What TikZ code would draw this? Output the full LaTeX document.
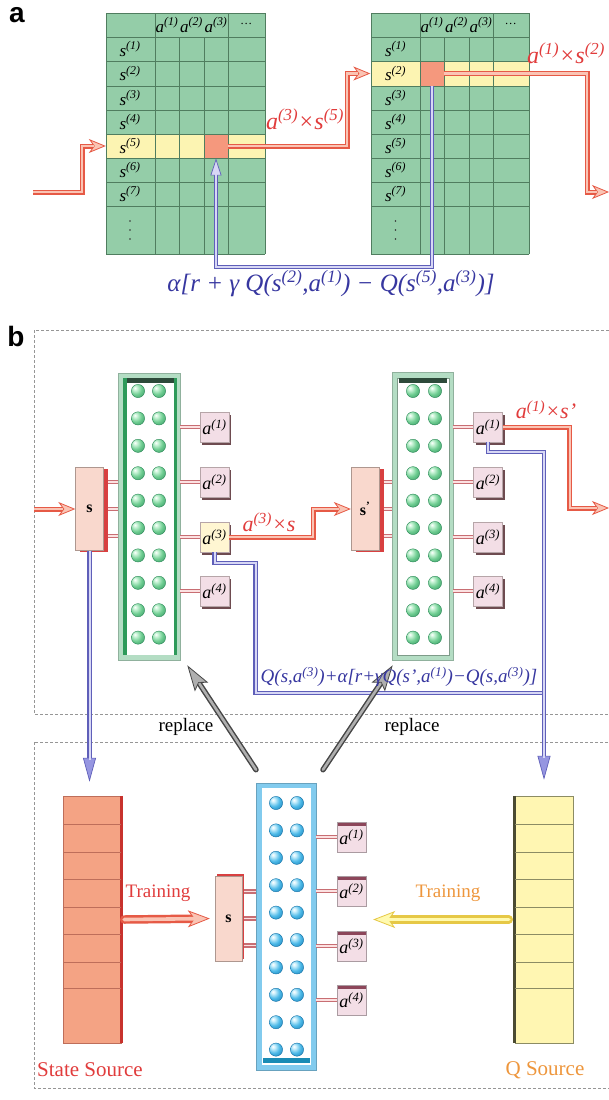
\documentclass[tikz,border=0pt]{standalone}
\usepackage{fontspec}
\setmainfont{Liberation Serif}
\newfontfamily\panelfont{Liberation Sans}
\usetikzlibrary{arrows.meta,shadows}
\definecolor{tgreen}{RGB}{148,205,168}
\definecolor{tline}{RGB}{80,125,95}
\definecolor{tyellow}{RGB}{252,244,178}
\definecolor{torange}{RGB}{245,152,125}
\definecolor{rout}{RGB}{230,90,70}
\definecolor{rin}{RGB}{250,196,180}
\definecolor{rtext}{RGB}{225,60,60}
\definecolor{btext}{RGB}{55,55,160}
\definecolor{bout}{RGB}{95,95,185}
\definecolor{bin}{RGB}{215,215,245}
\definecolor{btip}{RGB}{150,150,225}
\definecolor{gdark}{RGB}{70,70,70}
\definecolor{glight}{RGB}{175,175,175}
\definecolor{ngframe}{RGB}{180,221,196}
\definecolor{ngstripe}{RGB}{46,154,90}
\definecolor{ngbar}{RGB}{45,74,58}
\definecolor{ballgl}{RGB}{205,245,218}
\definecolor{ballg}{RGB}{110,205,145}
\definecolor{ballgd}{RGB}{40,135,85}
\definecolor{nbframe}{RGB}{130,203,238}
\definecolor{nbbar}{RGB}{26,140,181}
\definecolor{ballbl}{RGB}{205,240,252}
\definecolor{ballb}{RGB}{75,185,232}
\definecolor{ballbd}{RGB}{15,110,165}
\definecolor{spink}{RGB}{249,216,205}
\definecolor{sred}{RGB}{216,64,64}
\definecolor{apink}{RGB}{243,222,230}
\definecolor{ashadow}{RGB}{110,75,80}
\definecolor{abar}{RGB}{140,70,90}
\definecolor{ayellow}{RGB}{255,246,210}
\definecolor{stubout}{RGB}{200,110,115}
\definecolor{stubin}{RGB}{252,225,225}
\definecolor{ssfill}{RGB}{244,163,132}
\definecolor{ssedge}{RGB}{200,50,45}
\definecolor{ssline}{RGB}{190,110,90}
\definecolor{qsfill}{RGB}{255,246,178}
\definecolor{qsedge}{RGB}{75,75,50}
\definecolor{qsline}{RGB}{140,140,100}
\definecolor{yout}{RGB}{230,200,70}
\definecolor{yin}{RGB}{255,250,175}
\definecolor{otext}{RGB}{238,150,60}
\definecolor{dashc}{RGB}{150,150,150}
\pgfdeclareradialshading{gball}{\pgfpoint{-12bp}{12bp}}{color(0bp)=(white); color(7bp)=(ballgl); color(22bp)=(ballg); color(46bp)=(ballgd); color(80bp)=(ballgd)}
\pgfdeclareradialshading{bball}{\pgfpoint{-12bp}{12bp}}{color(0bp)=(white); color(7bp)=(ballbl); color(22bp)=(ballb); color(46bp)=(ballbd); color(80bp)=(ballbd)}
\newcommand\supx[1]{\textsuperscript{(#1)}}
\newcommand\fsz[1]{\fontsize{#1}{#1}\selectfont}
\tikzset{
 rarrow/.style={draw=rout, line width=5pt, line join=miter,
   -{Stealth[length=17pt,width=14pt,inset=5pt,line width=0.8pt,fill=rin]},
   postaction={draw=rin, line width=2.4pt, -, shorten >=12pt}},
 barrow/.style={draw=bout, line width=4.4pt, line join=miter,
   -{Triangle[length=24pt,width=13pt,line width=0.7pt,fill=btip]},
   postaction={draw=bin, line width=2pt, -, shorten >=22pt}},
 sbarrow/.style={draw=bout, line width=4.4pt, line join=miter,
   -{Triangle[length=17pt,width=11pt,line width=0.7pt,fill=bin]},
   postaction={draw=bin, line width=2pt, -, shorten >=15pt}},
 bpipe/.style={draw=bout, line width=4.4pt, line join=miter,
   postaction={draw=bin, line width=2pt}},
 garrow/.style={draw=gdark, line width=5.5pt, line cap=round,
   -{Stealth[length=26pt,width=16pt,inset=5pt,line width=0.8pt,fill=glight]},
   postaction={draw=glight, line width=2.6pt, -, shorten >=22pt}},
 trarrow/.style={draw=rout, line width=8.5pt, line cap=round,
   -{Stealth[length=22pt,width=17pt,inset=6pt,line width=0.8pt,fill=rin]},
   postaction={draw=rin, line width=3.6pt, -, shorten >=16pt}},
 yarrow/.style={draw=yout, line width=8.5pt, line cap=round,
   -{Stealth[length=22pt,width=17pt,inset=6pt,line width=0.8pt,fill=yin]},
   postaction={draw=yin, line width=3.6pt, -, shorten >=16pt}},
 stub/.style={draw=stubout, line width=4.6pt,
   postaction={draw=stubin, line width=1.9pt}},
 rlab/.style={font=\fsz{17}\itshape, inner sep=0pt},
 ocell/.style={fill=torange, minimum width=24pt, minimum height=24.5pt, inner sep=0pt},
 tbox/.style={fill=tgreen, minimum width=159pt, minimum height=241pt, inner sep=0pt},
 netG/.style={fill=ngframe, draw=ngframe!80!black, line width=0.6pt, inner sep=0pt},
 netB/.style={fill=nbframe, draw=nbframe!80!black, line width=0.6pt, inner sep=0pt},
 sboxA/.style={fill=spink, draw=spink!70!black, line width=0.4pt, minimum width=28pt,
   minimum height=83pt, inner sep=0pt, font=\fsz{16}\bfseries,
   drop shadow={shadow xshift=4.5pt, shadow yshift=-1.5pt, fill=sred, opacity=1}},
 sboxB/.style={fill=spink, draw=spink!70!black, line width=0.4pt, minimum width=27pt,
   minimum height=85pt, inner sep=0pt, font=\fsz{16}\bfseries,
   drop shadow={shadow xshift=1.5pt, shadow yshift=2.5pt, fill=sred, opacity=1}},
 aboxA/.style={fill=apink, draw=ashadow!50, line width=0.4pt, minimum width=29pt,
   minimum height=30pt, inner sep=0pt, font=\fsz{18}\itshape,
   drop shadow={shadow xshift=2pt, shadow yshift=-2.5pt, fill=ashadow, opacity=1}},
 aboxB/.style={fill=apink, draw=apink!70!black, line width=0.4pt, minimum width=29pt,
   minimum height=30pt, inner sep=0pt, font=\fsz{18}\itshape,
   path picture={\fill[abar] (path picture bounding box.north west) rectangle
     ([yshift=-3.5pt]path picture bounding box.north east);}},
 dashbox/.style={draw=dashc, line width=0.6pt, dash pattern=on 3pt off 2pt},
 gballs/.style={shading=gball, draw=ballgd, line width=0.4pt},
 bballs/.style={shading=bball, draw=ballbd, line width=0.4pt},
}
\begin{document}
\begin{tikzpicture}[x=1pt,y=-1pt]
\useasboundingbox (0,0) rectangle (609,1100);
\fill[white] (0,0) rectangle (609,1100);

% ================= panel a =================
\node[font=\panelfont\bfseries\fsz{28}, inner sep=0pt] (pa) at (17,15) {a};

% left table
\node[tbox] (tabL) at (185.5,133.5) {};
\fill[tyellow] (106,134) rectangle (265,158);
\node[ocell] (c53) at (216,146) {};
\foreach \x in {106,155,228,265} \draw[tline, line width=0.6pt] (\x,13) -- (\x,254);
\foreach \x in {179,204} \draw[tline, line width=0.6pt] (\x,37) -- (\x,254);
\foreach \y in {13,37,61,86,110,134,158,182,206,254} \draw[tline, line width=0.6pt] (106,\y) -- (265,\y);
\foreach \i/\y in {1/49,2/73.5,3/98,4/122,5/146,6/170,7/194}
  \node[rlab] (Ls\i) at (130,\y) {s\supx{\i}};
\foreach \y in {221,230,239} \fill[black!80] (130,\y) circle (0.9pt);
\foreach \i/\x in {1/167,2/191.5,3/216}
  \node[rlab] (La\i) at (\x,25) {a\supx{\i}};
\node[rlab] (Lad) at (246.5,24) {\fsz{12}\dots};

% right table
\node[tbox] (tabR) at (450,133.5) {};
\fill[tyellow] (371,61) rectangle (529,86);
\node[ocell] (c21) at (432,73.5) {};
\foreach \x in {371,420,493,529} \draw[tline, line width=0.6pt] (\x,13) -- (\x,254);
\foreach \x in {444,469} \draw[tline, line width=0.6pt] (\x,37) -- (\x,254);
\foreach \y in {13,37,61,86,110,134,158,182,206,254} \draw[tline, line width=0.6pt] (371,\y) -- (529,\y);
\foreach \i/\y in {1/49,2/73.5,3/98,4/122,5/146,6/170,7/194}
  \node[rlab] (Rs\i) at (395.5,\y) {s\supx{\i}};
\foreach \y in {221,230,239} \fill[black!80] (395.5,\y) circle (0.9pt);
\foreach \i/\x in {1/432,2/456.5,3/481}
  \node[rlab] (Ra\i) at (\x,25) {a\supx{\i}};
\node[rlab] (Rad) at (511,24) {\fsz{12}\dots};

% arrows panel a
\coordinate (inA) at (33,192);
\coordinate (outA) at (609,192);
\draw[rarrow] (inA) -- ++(49,0) |- (tabL.west |- c53);
\draw[rarrow] (c53.east) -- ++(119,0) |- (tabR.west |- c21);
\draw[rarrow] (c21.east) -- ++(143,0) |- (outA);
\draw[sbarrow] (c21.south) -- ++(0,181) -| (c53.south);

\node[text=rtext, font=\fsz{24}\itshape, inner sep=0pt] (lblA1) at (305,119) {a\supx{3}×s\supx{5}};
\node[text=rtext, font=\fsz{24}\itshape, inner sep=0pt] (lblA2) at (566,53) {a\supx{1}×s\supx{2}};
\node[text=btext, font=\fsz{25}\itshape, inner sep=0pt] (fA) at (331,284)
  {α[r + γ Q(s\supx{2},a\supx{1}) − Q(s\supx{5},a\supx{3})]};

% ================= panel b =================
\node[font=\panelfont\bfseries\fsz{28}, inner sep=0pt] (pb) at (16,336) {b};
\draw[dashbox] (34,330) rectangle (640,714);
\draw[dashbox] (34,742) rectangle (640,1088);

% network 1 (top left)
\node[netG, minimum width=62pt, minimum height=287pt] (n1) at (149,516.5) {};
\fill[white] (123,378) rectangle (176,655);
\fill[ngstripe] (123,378) rectangle (126.5,655);
\fill[ngstripe] (173.5,378) rectangle (177,655);
\fill[ngbar] (126.5,378) rectangle (173.5,383);
\foreach \r in {0,...,9} \foreach \cx in {138,159}
  \path[gballs] (\cx,{391+27.4*\r}) circle (6.6pt);

% network 2 (top right)
\node[netG, minimum width=61pt, minimum height=288pt] (n2) at (422.5,516) {};
\fill[white] (397,378) rectangle (449,655);
\draw[ngframe!70!black, line width=0.5pt] (397,378) rectangle (449,655);
\fill[ngbar] (399,378) rectangle (447,383);
\foreach \r in {0,...,9} \foreach \cx in {413,435}
  \path[gballs] (\cx,{391+27.4*\r}) circle (6.6pt);

% network 3 (bottom)
\node[netB, minimum width=60pt, minimum height=287pt] (n3) at (286,926.5) {};
\fill[white] (262,788) rectangle (311,1065);
\fill[nbbar] (263,1058) rectangle (310,1063);
\foreach \r in {0,...,9} \foreach \cx in {276,297}
  \path[bballs] (\cx,{803+27.4*\r}) circle (6.6pt);

% s boxes
\node[sboxA] (sL) at (89.5,509) {s};
\node[sboxA] (sR) at (365,509) {s\textsuperscript{'}};
\node[sboxB] (sB) at (228.5,918.5) {s};

% stubs from s boxes
\foreach \d in {27,0,-27} {
  \draw[stub] ([xshift=4.5pt,yshift=\d pt]sL.east) -- ([yshift=\d pt]sL.east -| n1.west);
  \draw[stub] ([xshift=4.5pt,yshift=\d pt]sR.east) -- ([yshift=\d pt]sR.east -| n2.west);
  \draw[stub] ([xshift=1.5pt,yshift=\d pt]sB.east) -- ([yshift=\d pt]sB.east -| n3.west);
}

% action boxes
\foreach \i/\y in {1/427,2/482,3/537,4/591} {
  \node[aboxA] (A\i) at (214.5,\y) {a\supx{\i}};
  \node[aboxA] (B\i) at (488,\y) {a\supx{\i}};
}
\node[aboxA, fill=ayellow] (A3) at (214.5,537) {a\supx{3}};
\foreach \i/\y in {1/837,2/891,3/946,4/1000}
  \node[aboxB] (C\i) at (351.5,\y) {a\supx{\i}};
\foreach \i in {1,2,3,4} {
  \draw[stub] (n1.east |- A\i) -- (A\i.west);
  \draw[stub] (n2.east |- B\i) -- (B\i.west);
  \draw[stub] (n3.east |- C\i) -- (C\i.west);
}

% sources
\node[fill=ssfill, draw=ssline, line width=0.5pt, minimum width=58pt, minimum height=247pt, inner sep=0pt] (SS) at (92,919.5) {};
\draw[ssedge, line width=3pt] (SS.north east) -- (SS.south east);
\foreach \y in {824,852,879,907,934,962,988} \draw[ssline, line width=0.7pt] (63,\y) -- (121,\y);
\node[fill=qsfill, draw=qsline, line width=0.5pt, minimum width=58pt, minimum height=247pt, inner sep=0pt] (QS) at (544,919.5) {};
\draw[qsedge, line width=3pt] (QS.north west) -- (QS.south west);
\foreach \y in {824,852,879,907,934,962,988} \draw[qsline, line width=0.7pt] (515,\y) -- (573,\y);

% red connectors panel b
\coordinate (inB) at (34,509);
\coordinate (outB) at (609,508);
\draw[rarrow] (inB) -- (sL.west);
\draw[rarrow] (A3.east) -- ++(84,0) |- (sR.west);
\draw[rarrow] (B1.east) -- ++(67,0) |- (outB);

% blue connectors panel b
\coordinate (ssin) at ([yshift=14pt]SS.north);
\coordinate (qin) at ([yshift=16pt]QS.north);
\coordinate (qjoin) at ([yshift=103pt]QS.north);
\draw[barrow] (sL.south) -- (sL.south |- ssin);
\draw[bpipe] (A3.south) -- ++(0,11) -- ++(41,0) |- (qjoin);
\draw[barrow] (B1.south) -- ++(0,10) -| (qin);

% replace arrows
\coordinate (g1s) at ([xshift=-30pt,yshift=13pt]n3.north);
\coordinate (g1e) at ([xshift=7pt,yshift=-5pt]n1.south east);
\coordinate (g2s) at ([xshift=37pt,yshift=13pt]n3.north);
\coordinate (g2e) at ([xshift=1pt,yshift=-5pt]n2.south west);
\draw[garrow] (g1s) -- (g1e);
\draw[garrow] (g2s) -- (g2e);

% training arrows
\draw[trarrow, shorten >=5pt] ([xshift=3pt]SS.east) -- (sB.west);
\draw[yarrow, shorten >=7pt] ([xshift=-6pt]QS.west) -- (QS.west -| C2.east);

% labels panel b
\node[text=rtext, font=\fsz{22}\itshape, inner sep=0pt] (lblB1) at (269,522) {a\supx{3}×s};
\node[text=rtext, font=\fsz{22}\itshape, inner sep=0pt] (lblB2) at (546,410) {a\supx{1}×s'};
\node[text=btext, font=\fsz{19}\itshape, inner sep=0pt] (fB) at (399,677)
  {Q(s,a\supx{3})+α[r+γQ(s',a\supx{1})−Q(s,a\supx{3})]};
\node[font=\fsz{19}, inner sep=0pt] (rp1) at (186,727) {replace};
\node[font=\fsz{19}, inner sep=0pt] (rp2) at (412,727) {replace};
\node[text=rtext, font=\fsz{19}, inner sep=0pt] (tr1) at (158,893) {Training};
\node[text=otext, font=\fsz{19}, inner sep=0pt] (tr2) at (448,893) {Training};
\node[text=rtext, font=\fsz{21}, inner sep=0pt] (lss) at (90,1070) {State Source};
\node[text=otext, font=\fsz{21}, inner sep=0pt] (lqs) at (545,1070) {Q Source};
\end{tikzpicture}
\end{document}
